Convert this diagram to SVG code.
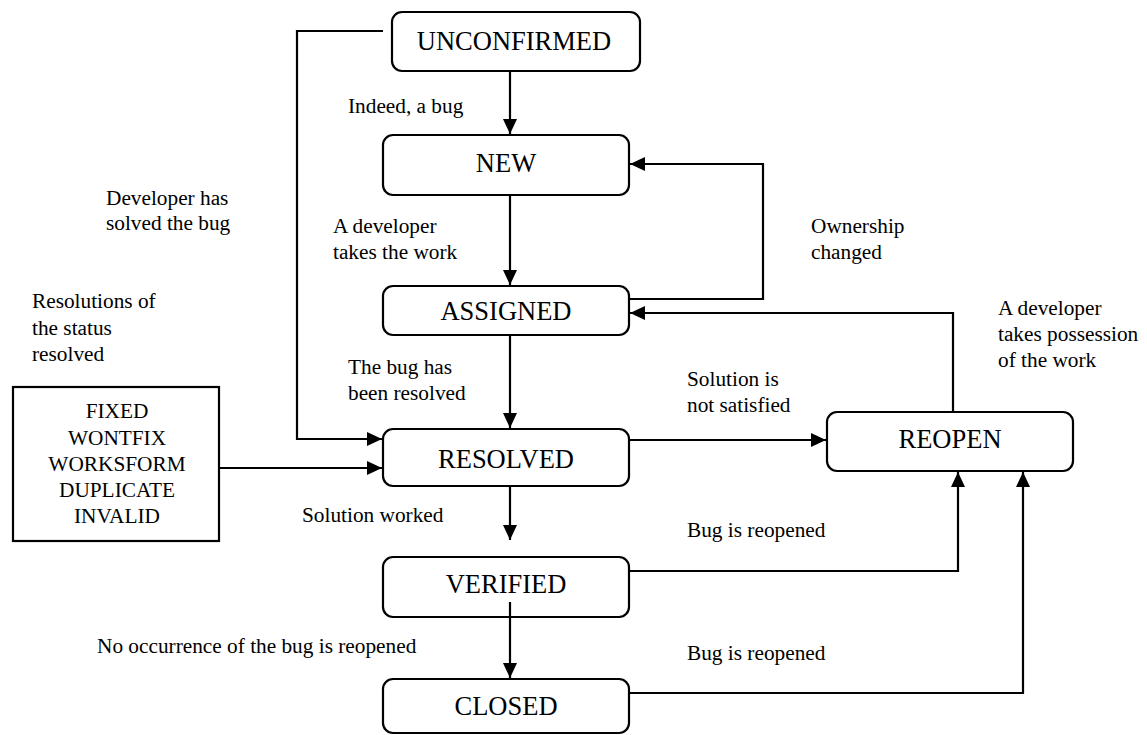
<svg xmlns="http://www.w3.org/2000/svg" width="1147" height="735" viewBox="0 0 1147 735">
<style>
  .box { fill: #fff; stroke: #000; stroke-width: 2.2; }
  .node { font-family: "Liberation Serif", "Times New Roman", serif; font-size: 26.5px; fill: #000; text-anchor: middle; }
  .lbl { font-family: "Liberation Serif", "Times New Roman", serif; font-size: 21.3px; fill: #000; }
  .res { font-family: "Liberation Serif", "Times New Roman", serif; font-size: 21.3px; fill: #000; text-anchor: middle; }
  .edge { fill: none; stroke: #000; stroke-width: 2.2; }
</style>
<defs>
  <marker id="arrow" markerUnits="userSpaceOnUse" markerWidth="16" markerHeight="14" refX="15" refY="7" orient="auto">
    <path d="M0,0 L15,7 L0,14 Z" fill="#000"/>
  </marker>
</defs>
<rect width="1147" height="735" fill="#fff"/>

<g id="unconfirmed">
  <rect class="box" x="392" y="12" width="248" height="59" rx="10"/>
  <text class="node" x="514" y="50">UNCONFIRMED</text>
</g>
<g id="new">
  <rect class="box" x="383" y="135" width="246" height="60" rx="10"/>
  <text class="node" x="506" y="172">NEW</text>
</g>
<g id="assigned">
  <rect class="box" x="383" y="286" width="246" height="49" rx="10"/>
  <text class="node" x="506" y="320">ASSIGNED</text>
</g>
<g id="resolved">
  <rect class="box" x="383" y="429" width="246" height="57" rx="10"/>
  <text class="node" x="506" y="468">RESOLVED</text>
</g>
<g id="verified">
  <rect class="box" x="383" y="557" width="246" height="60" rx="10"/>
  <text class="node" x="506" y="593">VERIFIED</text>
</g>
<g id="closed">
  <rect class="box" x="383" y="679" width="246" height="54" rx="10"/>
  <text class="node" x="506" y="715">CLOSED</text>
</g>
<g id="reopen">
  <rect class="box" x="827" y="412" width="246" height="59" rx="10"/>
  <text class="node" x="950" y="448">REOPEN</text>
</g>
<g id="resolutions">
  <rect class="box" x="13" y="387" width="206" height="154"/>
  <text class="res" x="117" y="418">FIXED</text>
  <text class="res" x="117" y="445">WONTFIX</text>
  <text class="res" x="117" y="471">WORKSFORM</text>
  <text class="res" x="117" y="497">DUPLICATE</text>
  <text class="res" x="117" y="523">INVALID</text>
</g>

<g id="connectors">
  <path class="edge" d="M510,71 V134" marker-end="url(#arrow)"/>
  <path class="edge" d="M510,195 V285" marker-end="url(#arrow)"/>
  <path class="edge" d="M510,335 V428" marker-end="url(#arrow)"/>
  <path class="edge" d="M510,486 V540" marker-end="url(#arrow)"/>
  <path class="edge" d="M510,602 V678" marker-end="url(#arrow)"/>
  <path class="edge" d="M629,299 H763 V164 H630" marker-end="url(#arrow)"/>
  <path class="edge" d="M953,412 V313 H630" marker-end="url(#arrow)"/>
  <path class="edge" d="M629,440 H826" marker-end="url(#arrow)"/>
  <path class="edge" d="M629,571 H958 V472" marker-end="url(#arrow)"/>
  <path class="edge" d="M629,693 H1023 V472" marker-end="url(#arrow)"/>
  <path class="edge" d="M383,31 H297 V439 H382" marker-end="url(#arrow)"/>
  <path class="edge" d="M219,468 H382" marker-end="url(#arrow)"/>
</g>

<g id="labels">
  <text class="lbl" x="348" y="113">Indeed, a bug</text>
  <text class="lbl" x="333" y="233">A developer</text>
  <text class="lbl" x="333" y="259">takes the work</text>
  <text class="lbl" x="348" y="374">The bug has</text>
  <text class="lbl" x="348" y="400">been resolved</text>
  <text class="lbl" x="106" y="205">Developer has</text>
  <text class="lbl" x="106" y="230">solved the bug</text>
  <text class="lbl" x="32" y="308">Resolutions of</text>
  <text class="lbl" x="32" y="335">the status</text>
  <text class="lbl" x="32" y="361">resolved</text>
  <text class="lbl" x="811" y="233">Ownership</text>
  <text class="lbl" x="811" y="259">changed</text>
  <text class="lbl" x="998" y="315">A developer</text>
  <text class="lbl" x="998" y="341">takes possession</text>
  <text class="lbl" x="998" y="367">of the work</text>
  <text class="lbl" x="687" y="386">Solution is</text>
  <text class="lbl" x="687" y="412">not satisfied</text>
  <text class="lbl" x="302" y="522">Solution worked</text>
  <text class="lbl" x="687" y="537">Bug is reopened</text>
  <text class="lbl" x="97" y="653">No occurrence of the bug is reopened</text>
  <text class="lbl" x="687" y="660">Bug is reopened</text>
</g>
</svg>
